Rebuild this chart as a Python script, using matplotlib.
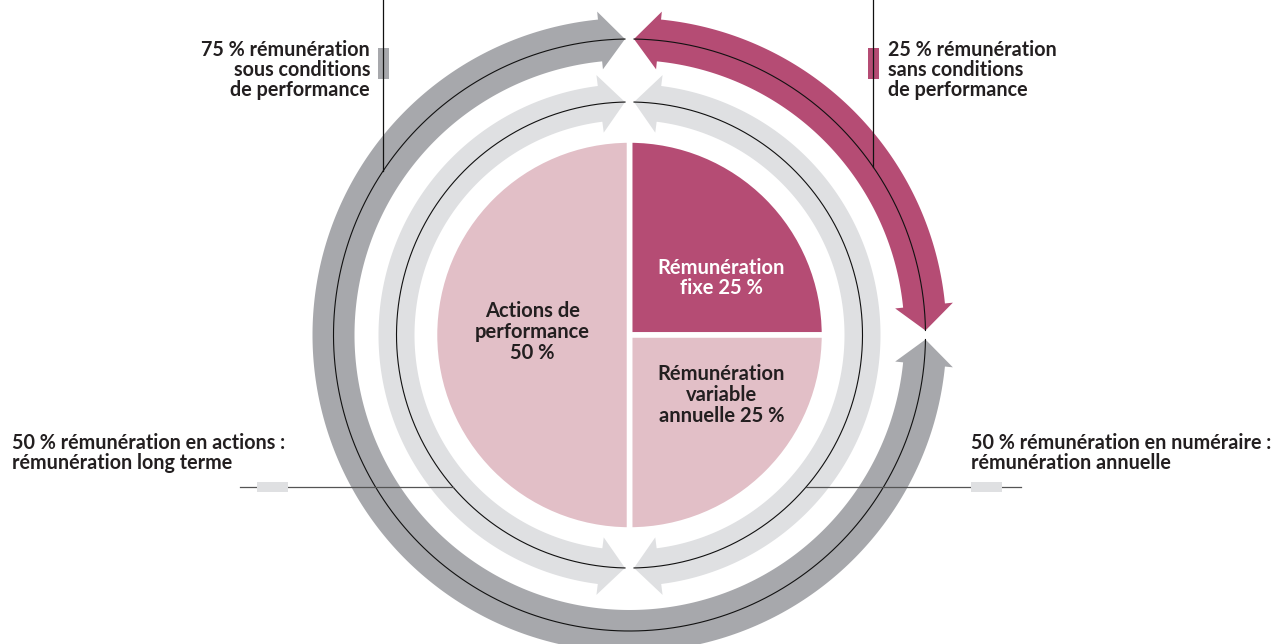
import numpy as np
import matplotlib.pyplot as plt
from matplotlib.patches import Polygon, Rectangle

W, H = 1283, 644
CX, CY = 629.5, H - 335   # centre of the diagram, pixel units, y pointing up

# --- data ---------------------------------------------------------------
pie_labels = ['Rémunération\nfixe 25 %',
              'Rémunération\nvariable\nannuelle 25 %',
              'Actions de\nperformance\n50 %']
pie_values = [25, 25, 50]
pie_colors = ['#b54c74', '#e2bfc7', '#e2bfc7']
pie_text_colors = ['white', '#231f20', '#231f20']

outer_shares = [25, 75]          # sans / sous conditions de performance
outer_colors = ['#b54c74', '#a7a8ac']
outer_labels = ['25 % rémunération\nsans conditions\nde performance',
                '75 % rémunération\nsous conditions\nde performance']

inner_shares = [50, 50]          # numéraire / actions
inner_colors = ['#dfe0e2', '#dfe0e2']
inner_labels = ['50 % rémunération en numéraire :\nrémunération annuelle',
                '50 % rémunération en actions :\nrémunération long terme']

TXT = '#231f20'
plt.rcParams['font.family'] = ['Lato', 'DejaVu Sans']

fig = plt.figure(figsize=(12.83, 6.44), dpi=100)
ax = fig.add_axes([0, 0, 1, 1])


def pol(r, t):
    t = np.radians(t)
    return CX + r * np.cos(t), CY + r * np.sin(t)


def arc_arrow(r, t1, t2, band, head, head_len, gap, color):
    # double headed arrow running clockwise from t1 to t2 (degrees)
    g = np.degrees(gap / r)
    hl = np.degrees(head_len / r)
    ta, tb = t1 - g, t2 + g
    ta2, tb2 = ta - hl, tb + hl
    arc = np.linspace(ta2, tb2, 300)
    pts = [(r, ta), (r + head, ta2)]
    pts += [(r + band, t) for t in arc]
    pts += [(r + head, tb2), (r, tb), (r - head, tb2)]
    pts += [(r - band, t) for t in arc[::-1]]
    pts += [(r - head, ta2)]
    ax.add_patch(Polygon([pol(rr, t) for rr, t in pts], closed=True,
                         fc=color, ec='none'))
    line = np.linspace(ta, tb, 400)
    x, y = pol(r, line)
    ax.plot(x, y, color='#111111', lw=0.8)


def ring(shares, colors, r, band, head):
    start = 90
    for s, c in zip(shares, colors):
        end = start - 360 * s / sum(shares)
        arc_arrow(r, start, end, band, head, 25, 4.5, c)
        start = end


R_OUT, R_IN = 296, 233
ring(outer_shares, outer_colors, R_OUT, 21, 29)
ring(inner_shares, inner_colors, R_IN, 18, 29)

# --- pie ----------------------------------------------------------------
ax.pie(pie_values, colors=pie_colors, startangle=90, counterclock=False,
       radius=195, center=(CX, CY),
       wedgeprops=dict(edgecolor='white', linewidth=4))
label_pos = [(92, 57), (92, -60), (-97, 3)]
for lab, (dx, dy), c in zip(pie_labels, label_pos, pie_text_colors):
    ax.text(CX + dx, CY + dy, lab, ha='center', va='center', color=c,
            fontsize=14.5, fontweight='bold', linespacing=1.05)

# --- callouts -----------------------------------------------------------
lw = 0.9
FS = 14.2
# top: vertical leaders down to the outer ring
for x, col, lab, side in [(873, outer_colors[0], outer_labels[0], 'left'),
                          (383, outer_colors[1], outer_labels[1], 'right')]:
    y_end = CY + np.sqrt(R_OUT ** 2 - (x - CX) ** 2)
    ax.plot([x, x], [H, y_end], color='#111111', lw=lw)
    ax.add_patch(Rectangle((x - 5, H - 79), 11, 31, fc=col, ec='none'))
    tx = x + 15 if side == 'left' else x - 13
    ax.text(tx, H - 40, lab, ha=side, va='top', color=TXT, fontsize=FS,
            fontweight='bold', linespacing=1.0)

# bottom: horizontal leaders out from the inner ring
yl = H - 487
dxl = np.sqrt(R_IN ** 2 - (CY - yl) ** 2)
ax.plot([CX + dxl, 1021], [yl, yl], color='#555555', lw=lw)
ax.plot([240, CX - dxl], [yl, yl], color='#555555', lw=lw)
ax.add_patch(Rectangle((971, yl - 5), 31, 10, fc=inner_colors[0], ec='none', zorder=3))
ax.add_patch(Rectangle((257, yl - 5), 31, 10, fc=inner_colors[1], ec='none', zorder=3))
ax.text(971, H - 433, inner_labels[0], ha='left', va='top', color=TXT,
        fontsize=FS, fontweight='bold', linespacing=1.0)
ax.text(12, H - 433, inner_labels[1], ha='left', va='top', color=TXT,
        fontsize=FS, fontweight='bold', linespacing=1.0)

ax.set_xlim(0, W)
ax.set_ylim(0, H)
ax.set_aspect('auto')
ax.axis('off')
fig.savefig('out.png', dpi=100, facecolor='white')
